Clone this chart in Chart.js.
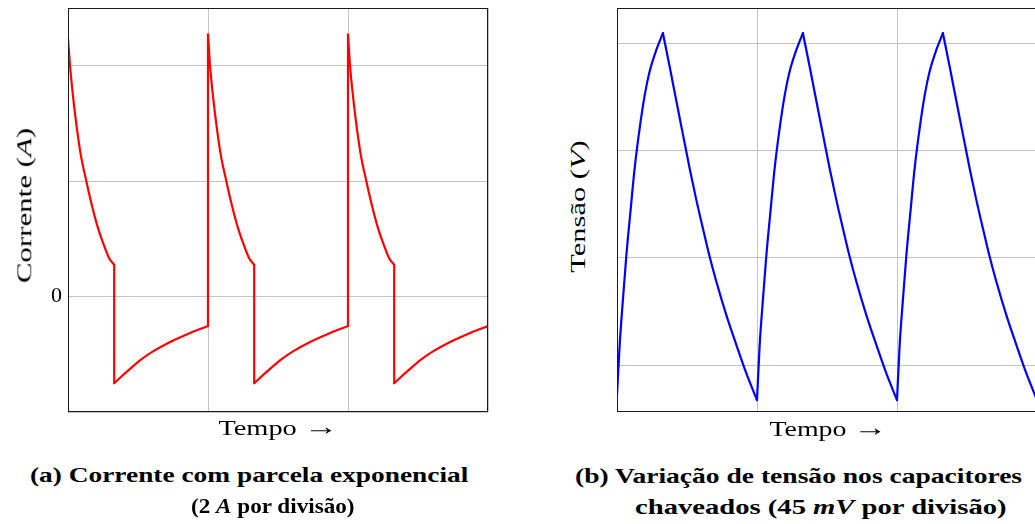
<!DOCTYPE html>
<html>
<head>
<meta charset="utf-8">
<script src="https://cdn.jsdelivr.net/npm/chart.js@4.4.0/dist/chart.umd.min.js"></script>
<style>
  html, body { margin: 0; padding: 0; background: #fff; overflow: hidden; }
  #page { position: relative; width: 1035px; height: 524px; overflow: hidden; }
  canvas { position: absolute; top: 0; }
  .lbl { position: absolute; white-space: nowrap; line-height: 1; font-family: 'Liberation Serif', serif; color: #000; }
  .b { font-weight: bold; }
  .seta { font-size: 1.2em; line-height: 0; }
</style>
</head>
<body>
<div id="page">
  <canvas id="chartA" width="492" height="416" style="left:0"></canvas>
  <canvas id="chartB" width="441" height="416" style="left:600px"></canvas>

  <span class="lbl" id="yA">Corrente (<i>A</i>)</span>
  <span class="lbl" id="xA">Tempo <span class="seta">→</span></span>
  <span class="lbl b" id="capA1">(a) Corrente com parcela exponencial</span>
  <span class="lbl b" id="capA2">(2 <i>A</i> por divisão)</span>

  <span class="lbl" id="yB">Tensão (<i>V</i>)</span>
  <span class="lbl" id="xB">Tempo <span class="seta">→</span></span>
  <span class="lbl b" id="capB1">(b) Variação de tensão nos capacitores</span>
  <span class="lbl b" id="capB2">chaveados (45 <i>mV</i> por divisão)</span>
</div>

<script>
// tempo em divisões (um período por divisão)
const ticksTempo = [0, 1, 2, 3];

// (a) corrente, em A (2 A por divisão)
const tempoA = [
  0, 0.0145, 0.036, 0.06, 0.091, 0.131, 0.172, 0.214, 0.255, 0.293, 0.33, 0.33, 0.417, 0.512, 0.607, 0.726, 0.845, 1,
  1, 1.0145, 1.036, 1.06, 1.091, 1.131, 1.172, 1.214, 1.255, 1.293, 1.33, 1.33, 1.417, 1.512, 1.607, 1.726, 1.845, 2,
  2, 2.0145, 2.036, 2.06, 2.091, 2.131, 2.172, 2.214, 2.255, 2.293, 2.33, 2.33, 2.417, 2.512, 2.607, 2.726, 2.845, 3
];
const correnteA = [
  4.47, 4.0, 3.47, 2.98, 2.46, 2.0, 1.57, 1.19, 0.9, 0.67, 0.55, -1.5, -1.31, -1.11, -0.95, -0.79, -0.66, -0.51,
  4.54, 4.0, 3.47, 2.98, 2.46, 2.0, 1.57, 1.19, 0.9, 0.67, 0.55, -1.5, -1.31, -1.11, -0.95, -0.79, -0.66, -0.51,
  4.54, 4.0, 3.47, 2.98, 2.46, 2.0, 1.57, 1.19, 0.9, 0.67, 0.55, -1.5, -1.31, -1.11, -0.95, -0.79, -0.66, -0.51
];
const ticksCorrente = [-2, 0, 2, 4];

// (b) tensão nos capacitores, em mV (45 mV por divisão)
const tempoB = [
  0, 0.019, 0.043, 0.067, 0.096, 0.126, 0.162, 0.198, 0.233, 0.281, 0.328,
  0.376, 0.424, 0.472, 0.519, 0.567, 0.615, 0.662, 0.71, 0.781, 0.853, 0.924, 1,
  1.019, 1.043, 1.067, 1.096, 1.126, 1.162, 1.198, 1.233, 1.281, 1.328,
  1.376, 1.424, 1.472, 1.519, 1.567, 1.615, 1.662, 1.71, 1.781, 1.853, 1.924, 2,
  2.019, 2.043, 2.067, 2.096, 2.126, 2.162, 2.198, 2.233, 2.281, 2.328,
  2.376, 2.424, 2.472, 2.519, 2.567, 2.615, 2.662, 2.71, 2.781, 2.853, 2.924, 3
];
const tensaoB = [
  32.4, 53.4, 73.0, 91.2, 109.4, 127.6, 144.5, 158.4, 168.3, 177.4, 184.4,
  170.4, 155.9, 141.6, 127.6, 114.3, 102.1, 90.5, 80.0, 66.0, 53.4, 41.5, 30.3,
  53.4, 73.0, 91.2, 109.4, 127.6, 144.5, 158.4, 168.3, 177.4, 184.4,
  170.4, 155.9, 141.6, 127.6, 114.3, 102.1, 90.5, 80.0, 66.0, 53.4, 41.5, 30.3,
  53.4, 73.0, 91.2, 109.4, 127.6, 144.5, 158.4, 168.3, 177.4, 184.4,
  170.4, 155.9, 141.6, 127.6, 114.3, 102.1, 90.5, 80.0, 66.0, 53.4, 41.5, 30.3
];
const ticksTensao = [45, 90, 135, 180];

const corGrade = '#c4c4c4';

// moldura fechada em volta da área do gráfico
const moldura = {
  id: 'moldura',
  afterDraw(chart) {
    const { ctx, chartArea: a } = chart;
    ctx.save();
    ctx.strokeStyle = '#1a1a1a';
    ctx.lineWidth = 1;
    ctx.strokeRect(a.left + 0.5, a.top + 0.5, a.right - a.left - 1, a.bottom - a.top - 1);
    ctx.restore();
  }
};

// quebra a curva em trechos monótonos (subida, descida, degrau vertical)
// para que a suavização não arredonde picos nem degraus
function trechos(ts, vs) {
  const out = [];
  let atual = [{ x: ts[0], y: vs[0] }];
  let dir = null;
  for (let i = 1; i < ts.length; i++) {
    const dx = ts[i] - ts[i - 1];
    const d = dx === 0 ? 'v' : Math.sign(vs[i] - vs[i - 1]);
    if (dir !== null && d !== dir) {
      out.push(atual);
      atual = [{ x: ts[i - 1], y: vs[i - 1] }];
    }
    atual.push({ x: ts[i], y: vs[i] });
    dir = d;
  }
  out.push(atual);
  return out;
}

function grafico(id, tempos, valores, cor, yMin, yMax, yTicks, larguraEixo, rotuloY) {
  return new Chart(document.getElementById(id), {
    type: 'line',
    data: {
      datasets: trechos(tempos, valores).map(pts => ({
        data: pts,
        borderColor: cor,
        borderWidth: 2.2,
        borderCapStyle: 'round',
        pointRadius: 0,
        cubicInterpolationMode: 'monotone',
        fill: false
      }))
    },
    options: {
      responsive: false,
      animation: false,
      layout: { padding: { top: 8, right: 4, bottom: 0, left: 0 } },
      plugins: { legend: { display: false }, tooltip: { enabled: false } },
      scales: {
        x: {
          type: 'linear', min: 0, max: 3,
          afterBuildTicks: ax => { ax.ticks = ticksTempo.map(v => ({ value: v })); },
          afterFit: ax => { ax.height = 4; ax.paddingLeft = 0; ax.paddingRight = 0; },
          ticks: { display: false },
          grid: { color: corGrade, drawTicks: false },
          border: { display: false }
        },
        y: {
          min: yMin, max: yMax,
          afterBuildTicks: ax => { ax.ticks = yTicks.map(v => ({ value: v })); },
          afterFit: ax => { ax.width = larguraEixo; ax.paddingTop = 0; ax.paddingBottom = 0; },
          ticks: {
            display: !!rotuloY,
            padding: 6,
            color: '#000',
            font: { family: 'Liberation Serif', size: 22 },
            callback: rotuloY || (() => '')
          },
          grid: { color: corGrade, drawTicks: false },
          border: { display: false }
        }
      }
    },
    plugins: [moldura]
  });
}

grafico('chartA', tempoA, correnteA, '#ff0000', -2, 5, ticksCorrente, 68, v => (v === 0 ? '0' : ''));
grafico('chartB', tempoB, tensaoB, '#0000ff', 25.3, 195, ticksTensao, 17, null);

// textos: centro x, linha de base, tamanho, largura final, girado
const textos = [
  ['yA', 32, 205, 21, 156, true],
  ['xA', 278, 435, 20.5, 119, false],
  ['capA1', 249, 482, 22, 438, false],
  ['capA2', 272, 513, 22, 163, false],
  ['yB', 586, 206, 21, 132, true],
  ['xB', 828, 436, 20.5, 117, false],
  ['capB1', 798.5, 483, 22, 447, false],
  ['capB2', 821, 514, 22, 372, false]
];

for (const [id, c, base, size, largura, girado] of textos) {
  const el = document.getElementById(id);
  el.style.fontSize = size + 'px';
  const w = el.offsetWidth;
  const k = largura / w;
  el.style.transformOrigin = '50% 50%';
  if (girado) {
    const bx = c - 0.3375 * size;
    el.style.left = (bx - w / 2) + 'px';
    el.style.top = (base - size / 2) + 'px';
    el.style.transform = `rotate(-90deg) scaleX(${k})`;
  } else {
    el.style.left = (c - w / 2) + 'px';
    el.style.top = (base - 0.8375 * size) + 'px';
    el.style.transform = `scaleX(${k})`;
  }
}
</script>
</body>
</html>
